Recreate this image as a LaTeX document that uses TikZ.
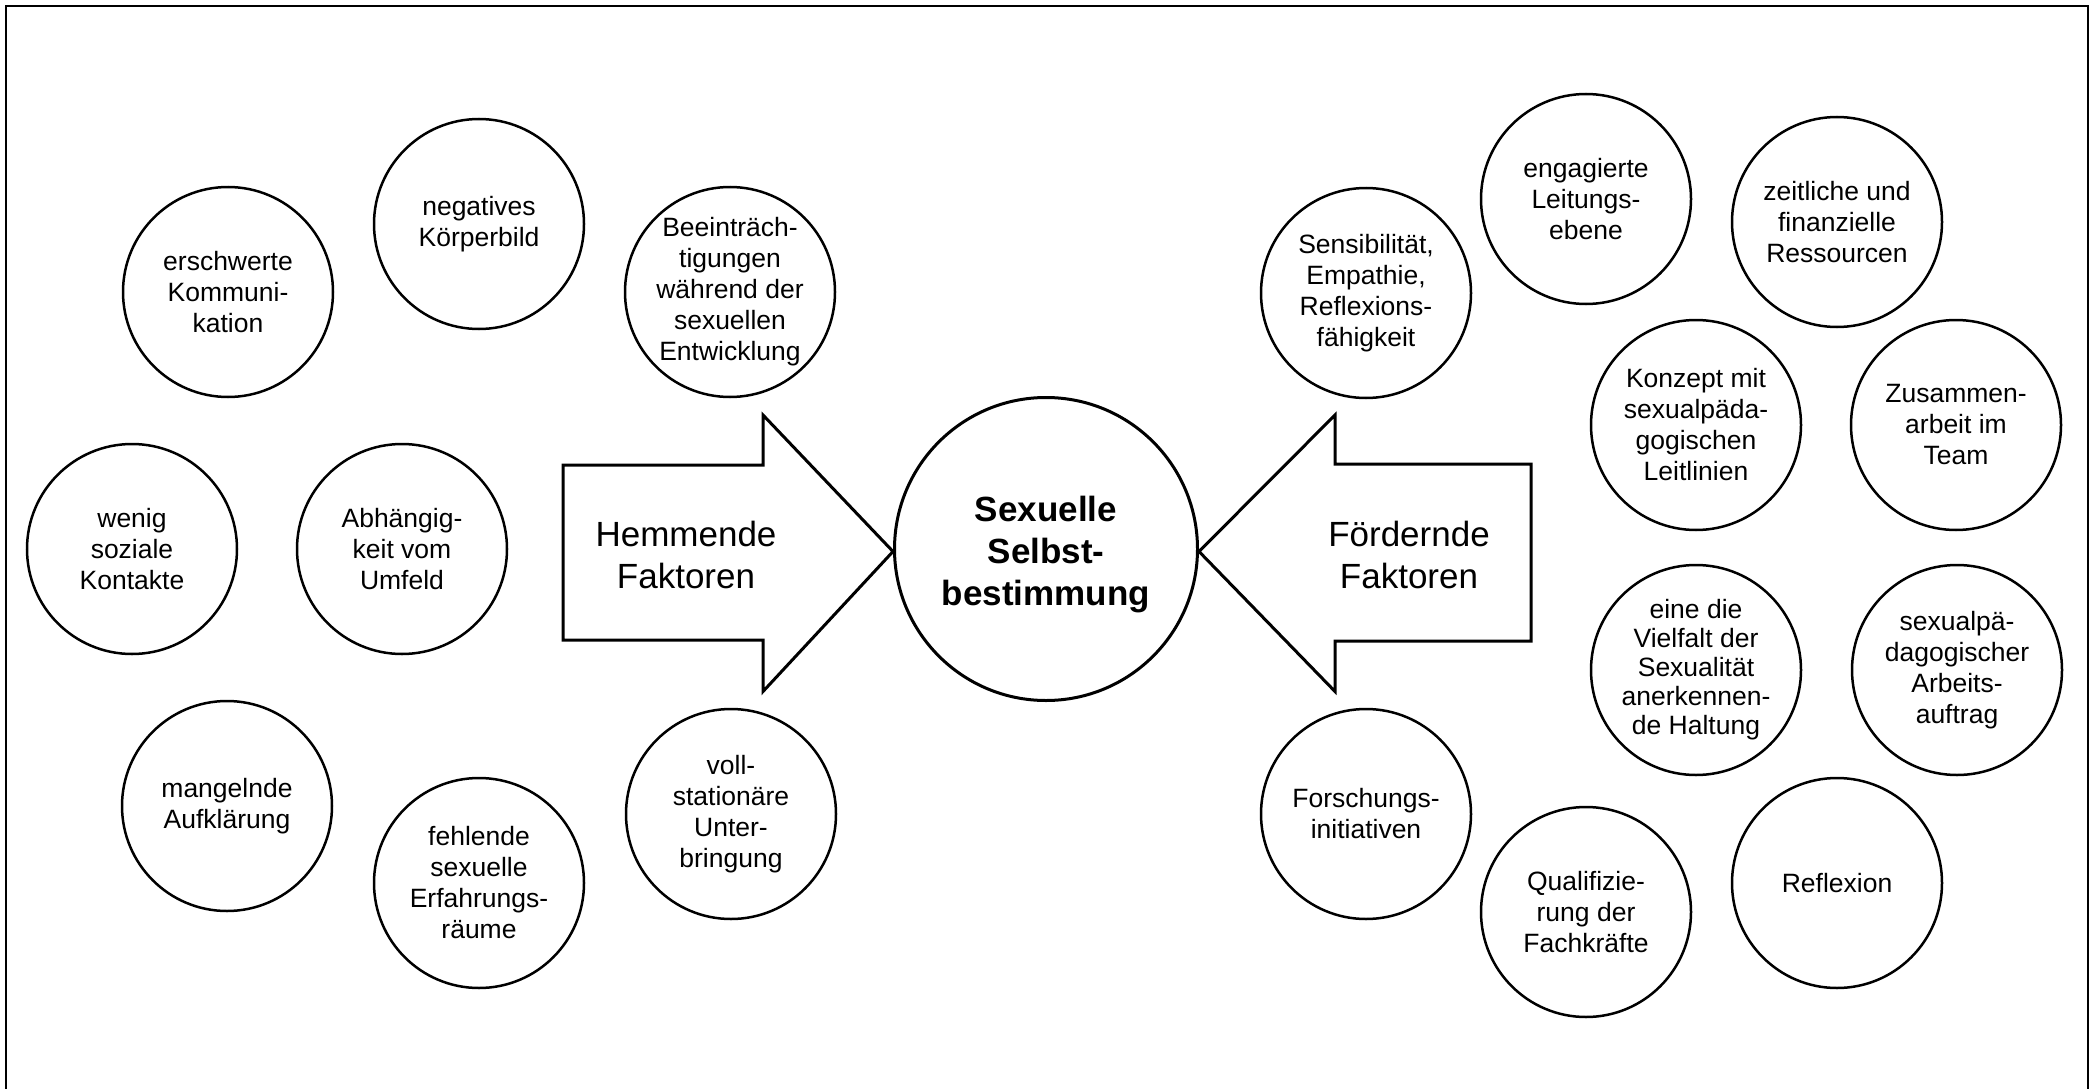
\documentclass[tikz,border=0pt]{standalone}
\usepackage{fontspec}
\setmainfont{Liberation Sans}[Ligatures=CommonOff]
\newcommand\circfont{\fontsize{26.5}{31}\selectfont}
\newcommand\circfonttight{\fontsize{26.5}{29}\selectfont}
\newcommand\bigfont{\fontsize{35}{42}\selectfont}
\begin{document}
\begin{tikzpicture}[x=1pt,y=-1pt,
  factor/.style={circle,draw,line width=2.5pt,minimum size=210pt,inner sep=0pt,align=center,font=\circfont},
  centerc/.style={circle,draw,line width=3pt,minimum size=303pt,inner sep=0pt},
  centertext/.style={align=center,font=\bigfont\bfseries,inner sep=0pt},
  bigarrow/.style={draw,line width=3pt,line join=miter,fill=white},
  arrowtext/.style={align=center,font=\bigfont,inner sep=0pt}]
\useasboundingbox (0,0) rectangle (2096,1089);
% frame (open at bottom)
\draw[line width=2pt] (6,1095) -- (6,6) -- (2088,6) -- (2088,1095);
% arrows
\draw[bigarrow] (563,465) -- (763,465) -- (763,415) -- (893,551.5) -- (763,691.5) -- (763,640) -- (563,640) -- cycle;
\draw[bigarrow] (1531,464) -- (1335,464) -- (1335,415) -- (1199,551.5) -- (1335,691.5) -- (1335,641) -- (1531,641) -- cycle;
\node[arrowtext] (hemm) at (686,555) {Hemmende\\Faktoren};
\node[arrowtext] (foerd) at (1409,555) {Fördernde\\Faktoren};
% center
\node[centerc] (center) at (1046,549) {};
\node[centertext] (centerlbl) at (1046,555) {Sexuelle\\Selbst-\\bestimmung};
% left side
\node[factor] (l1) at (228,292) {erschwerte\\Kommuni-\\kation};
\node[factor] (l2) at (479,224) {negatives\\Körperbild};
\node[factor] (l3) at (730,292) {Beeinträch-\\tigungen\\während der\\sexuellen\\Entwicklung};
\node[factor] (l4) at (132,549) {wenig\\soziale\\Kontakte};
\node[factor] (l5) at (402,549) {Abhängig-\\keit vom\\Umfeld};
\node[factor] (l6) at (227,806) {mangelnde\\Aufklärung};
\node[factor] (l7) at (479,883) {fehlende\\sexuelle\\Erfahrungs-\\räume};
\node[factor] (l8) at (731,814) {voll-\\stationäre\\Unter-\\bringung};
% right side
\node[factor] (r1) at (1366,293) {Sensibilität,\\Empathie,\\Reflexions-\\fähigkeit};
\node[factor] (r2) at (1586,199) {engagierte\\Leitungs-\\ebene};
\node[factor] (r3) at (1837,222) {zeitliche und\\finanzielle\\Ressourcen};
\node[factor] (r4) at (1696,425) {Konzept mit\\sexualpäda-\\gogischen\\Leitlinien};
\node[factor] (r5) at (1956,425) {Zusammen-\\arbeit im\\Team};
\node[factor,font=\circfonttight] (r6) at (1696,670) {eine die\\Vielfalt der\\Sexualität\\anerkennen-\\de Haltung};
\node[factor] (r7) at (1957,670) {sexualpä-\\dagogischer\\Arbeits-\\auftrag};
\node[factor] (r8) at (1366,814) {Forschungs-\\initiativen};
\node[factor] (r9) at (1586,912) {Qualifizie-\\rung der\\Fachkräfte};
\node[factor] (r10) at (1837,883) {Reflexion};
\end{tikzpicture}
\end{document}
